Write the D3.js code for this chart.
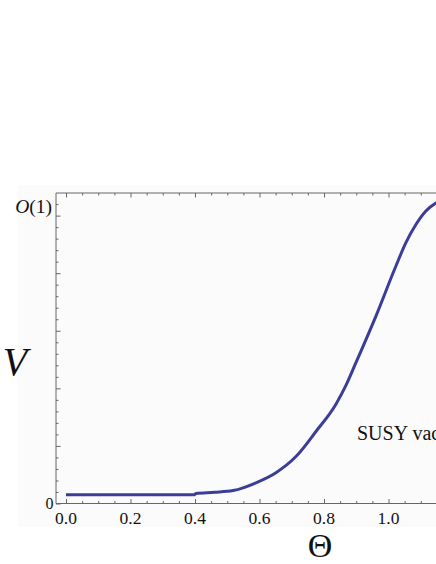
<!DOCTYPE html>
<html lang="en">
<head>
  <meta charset="UTF-8" />
  <title>V vs Theta</title>
  <style>
    body { margin: 0; background: #fff; }
    .curve { fill: none; stroke: #3c3c99; stroke-width: 3px; }
    .frame line, .frame path { stroke: #666; }
    text { font-family: "Liberation Serif", "DejaVu Serif", serif; fill: #111; }
  </style>
</head>
<body>
  <script src="https://cdn.jsdelivr.net/npm/d3@7"></script>
  <script>
    var w = 436;
    var h = 564;

    // curve: theta, V
    var theta = [0.0, 0.2, 0.397, 0.403, 0.46, 0.518, 0.589, 0.651, 0.713, 0.775, 0.837, 0.868, 0.899, 0.961, 1.023, 1.054, 1.085, 1.116, 1.147, 1.18, 1.22, 1.26];
    var vals = [0.030, 0.030, 0.030, 0.035, 0.039, 0.045, 0.072, 0.107, 0.163, 0.25, 0.345, 0.41, 0.489, 0.651, 0.825, 0.906, 0.969, 1.016, 1.044, 1.058, 1.064, 1.065];

    var xMajor = [0.0, 0.2, 0.4, 0.6, 0.8, 1.0, 1.2];
    var xTickLabels = ["0.0", "0.2", "0.4", "0.6", "0.8", "1.0"];
    var yMajor = [0, 0.2, 0.4, 0.6, 0.8, 1.0];
    var yTickLabels = [{ v: 0, t: "0" }, { v: 1.03, t: "O(1)" }];

    var margin = { top: 193, left: 56, bottom: 503.5 };

    var svg = d3.select("body").append("svg")
      .attr("width", w)
      .attr("height", h);

    // faint plot background
    svg.append("rect")
      .attr("x", 18).attr("y", 185)
      .attr("width", w - 18).attr("height", 342)
      .attr("fill", "#fbfbfb");

    var xScale = d3.scaleLinear()
      .domain([0, 1])
      .range([66, 388.5]);

    var yScale = d3.scaleLinear()
      .domain([0, 1])
      .range([503.5, 215.6]);

    var xMinor = d3.range(0, 1.45, 0.05).filter(function(d) {
      return Math.abs(d * 5 - Math.round(d * 5)) > 1e-6;
    });
    var yMinor = d3.range(0, 1.07, 0.04).filter(function(d) {
      return Math.abs(d * 5 - Math.round(d * 5)) > 1e-6;
    });

    var frameRight = w + 10;

    // frame
    svg.append("path")
      .attr("d", "M" + frameRight + "," + margin.top + "H" + margin.left + "V" + margin.bottom + "H" + frameRight)
      .attr("fill", "none")
      .attr("stroke", "#666")
      .attr("stroke-width", 1);

    function inward(axis, pos, values, size) {
      svg.append("g")
        .attr("class", "frame")
        .attr("transform", pos)
        .call(axis.tickValues(values).tickSize(size).tickFormat(""))
        .call(function(g) { g.select(".domain").remove(); });
    }

    inward(d3.axisTop(xScale), "translate(0," + margin.bottom + ")", xMajor, 4.5);
    inward(d3.axisTop(xScale), "translate(0," + margin.bottom + ")", xMinor, 2.5);
    inward(d3.axisBottom(xScale), "translate(0," + margin.top + ")", xMajor, 4.5);
    inward(d3.axisBottom(xScale), "translate(0," + margin.top + ")", xMinor, 2.5);
    inward(d3.axisRight(yScale), "translate(" + margin.left + ",0)", yMajor, 4.5);
    inward(d3.axisRight(yScale), "translate(" + margin.left + ",0)", yMinor, 2.5);

    // x tick labels
    svg.append("g")
      .selectAll("text")
      .data(xTickLabels)
      .enter()
      .append("text")
      .attr("x", function(d, i) { return xScale(xMajor[i]); })
      .attr("y", 523.5)
      .attr("text-anchor", "middle")
      .style("font-size", "17.5px")
      .text(function(d) { return d; });

    // y tick labels
    svg.append("text")
      .attr("x", 53.5)
      .attr("y", yScale(yTickLabels[0].v) + 5)
      .attr("text-anchor", "end")
      .style("font-size", "16px")
      .text(yTickLabels[0].t);

    var o1 = svg.append("text")
      .attr("x", 52)
      .attr("y", yScale(yTickLabels[1].v) + 6.5)
      .attr("text-anchor", "end")
      .style("font-size", "19.5px");
    o1.append("tspan").style("font-style", "italic").text(yTickLabels[1].t.charAt(0));
    o1.append("tspan").text(yTickLabels[1].t.slice(1));

    // curve
    var pts = theta.map(function(t, i) { return [t, vals[i]]; });
    var line = d3.line()
      .x(function(d) { return xScale(d[0]); })
      .y(function(d) { return yScale(d[1]); })
      .curve(d3.curveMonotoneX);

    svg.append("path")
      .datum(pts)
      .attr("class", "curve")
      .attr("d", line);

    // axis labels
    svg.append("text")
      .attr("x", 15)
      .attr("y", 375)
      .attr("text-anchor", "middle")
      .style("font-size", "40px")
      .style("font-style", "italic")
      .text("V");

    svg.append("text")
      .attr("x", 320)
      .attr("y", 557)
      .attr("text-anchor", "middle")
      .style("font-size", "34px")
      .text("Θ");

    svg.append("text")
      .attr("x", 357)
      .attr("y", 440)
      .style("font-size", "20px")
      .text("SUSY vacuum");
  </script>
</body>
</html>
